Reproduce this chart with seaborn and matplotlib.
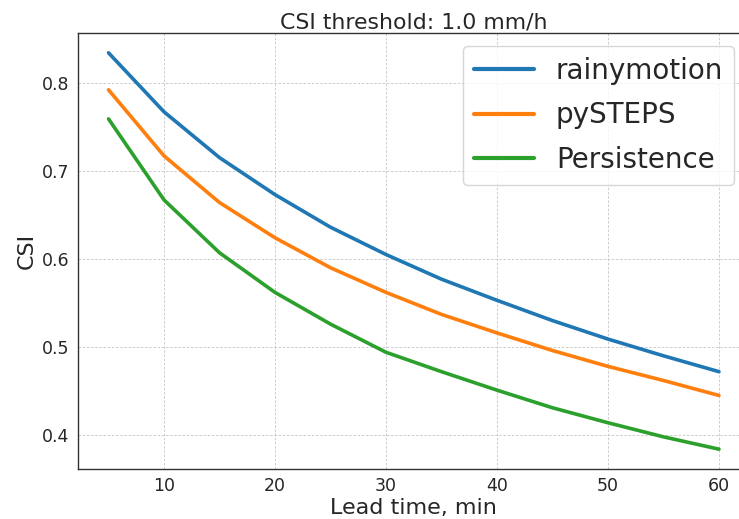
import pandas as pd
import matplotlib
import matplotlib.pyplot as plt
import seaborn as sns

matplotlib.use('Agg')

# lead times in minutes
lead_time = [5, 10, 15, 20, 25, 30, 35, 40, 45, 50, 55, 60]

# CSI values
csi_rainymotion = [0.834, 0.767, 0.715, 0.673, 0.636, 0.605, 0.577, 0.553, 0.530, 0.509, 0.490, 0.472]
csi_pysteps = [0.792, 0.717, 0.664, 0.624, 0.590, 0.562, 0.537, 0.516, 0.496, 0.478, 0.462, 0.445]
csi_persistence = [0.759, 0.667, 0.607, 0.562, 0.526, 0.494, 0.472, 0.451, 0.431, 0.414, 0.398, 0.384]

models = ['rainymotion', 'pySTEPS', 'Persistence']

df = pd.concat([
    pd.DataFrame({'lead': lead_time, 'csi': vals, 'model': name})
    for name, vals in zip(models, [csi_rainymotion, csi_pysteps, csi_persistence])
])

sns.set_style('white')
plt.rcParams['font.family'] = ['DejaVu Sans']

fig = plt.figure(figsize=(7.39, 5.19), dpi=100)
# axes run past the right edge of the picture, as in the cropped original
ax = fig.add_axes([78 / 739, 50 / 519, 671.5 / 739, 436 / 519])

sns.lineplot(
    data=df,
    x='lead',
    y='csi',
    hue='model',
    palette=['#1f77b4', '#ff7f0e', '#2ca02c'],
    linewidth=2.6,
    ax=ax
)

ax.set_xlim(2.25, 62.75)
ax.set_ylim(0.3615, 0.8565)
ax.grid(True, linestyle=(0, (3, 2)), color='#c4c4c4', linewidth=0.6)
for s in ax.spines.values():
    s.set_color('#333333')
    s.set_linewidth(1.0)
ax.spines['right'].set_visible(False)
ax.tick_params(length=0, labelsize=12.5, pad=6)
ax.set_yticks([0.4, 0.5, 0.6, 0.7, 0.8])
ax.set_xticks([10, 20, 30, 40, 50, 60])

ax.set_xlabel('Lead time, min', fontsize=16, labelpad=2)
ax.set_ylabel('CSI', fontsize=16)
ax.set_title('CSI threshold: 1.0 mm/h', fontsize=15.8, pad=3)

leg = ax.legend(loc='upper right', bbox_to_anchor=(0.99, 0.99), fontsize=20,
                handlelength=2.15, labelspacing=0.6, borderaxespad=0.3)
leg.set_title(None)
for line in leg.get_lines():
    line.set_linewidth(3.0)

fig.savefig('out.png', dpi=100)
